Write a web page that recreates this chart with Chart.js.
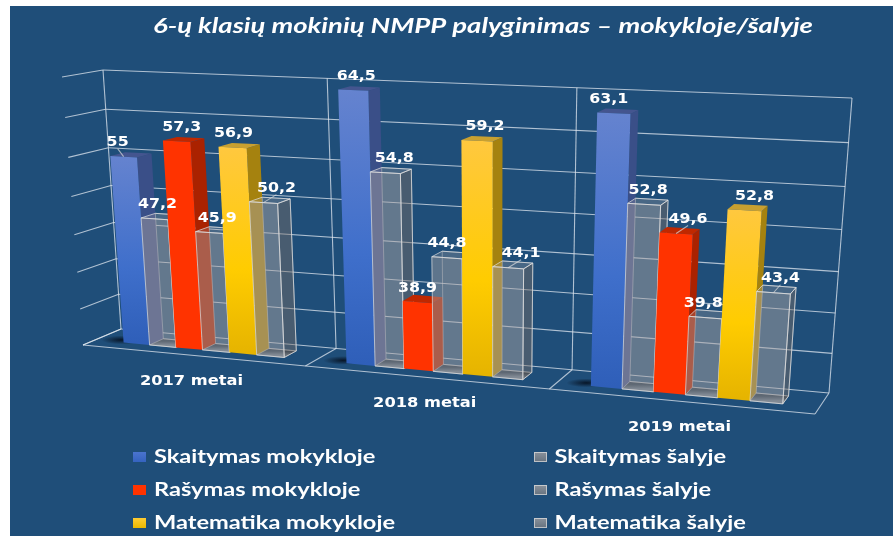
<!DOCTYPE html>
<html><head><meta charset="utf-8">
<style>html,body{margin:0;padding:0;background:#fff}canvas{display:block}</style>
<script src="https://cdn.jsdelivr.net/npm/chart.js@4"></script>
</head><body><canvas id="c" width="893" height="536"></canvas>
<script>
const chartTitle = '6-ų klasių mokinių NMPP palyginimas – mokykloje/šalyje';
const years = ['2017 metai','2018 metai','2019 metai'];
const skaitymasMokykloje = [55, 64.5, 63.1];
const skaitymasSalyje = [47.2, 54.8, 52.8];
const rasymasMokykloje = [57.3, 38.9, 49.6];
const rasymasSalyje = [45.9, 44.8, 39.8];
const matematikaMokykloje = [56.9, 59.2, 52.8];
const matematikaSalyje = [50.2, 44.1, 43.4];
const seriesNames = ['Skaitymas mokykloje','Skaitymas šalyje','Rašymas mokykloje','Rašymas šalyje','Matematika mokykloje','Matematika šalyje'];

// layout-only: horizontal nudge of value labels, and which labels carry a leader line
const labelNudge = [[-6,3,5,8,1,13],[3,9,0,0,8,13],[-5,4,12,-2,10,7]];
const leaders = [[0,0],[0,5],[1,5],[2,2],[2,5]];

const NAVY='#1F4E79';
const solid=[
 {front:['#6583CF','#3F6FCB','#2F5FB9'],side:'#3A4F88',top:'#44558F'},
 null,
 {front:['#FF3300','#FF3300','#FF3300'],side:'#AA2200',top:'#C02800'},
 null,
 {front:['#FFC83F','#FFCC00','#E6B400'],side:'#A5820F',top:'#C8A030'},
 null];
const COR={BBL:[121,329],BBR:[829,393],BTL:[103,70],BTR:[852,98],FBL:[83,345],FBR:[815,414],FTL:[62,77],FTR:[839,109]};
function P(u,v,d){
  const b=v-0.07*v*(1-v), a=u-(0.133+0.02*v)*u*(1-u);
  const mix=(p,q,t)=>[p[0]+(q[0]-p[0])*t,p[1]+(q[1]-p[1])*t];
  const bb=mix(COR.BBL,COR.BBR,a), bt=mix(COR.BTL,COR.BTR,a), fb=mix(COR.FBL,COR.FBR,a), ft=mix(COR.FTL,COR.FTR,a);
  return mix(mix(bb,bt,b),mix(fb,ft,b),d);
}
function poly(ctx,pts,fill,stroke){
  ctx.beginPath();pts.forEach((p,i)=>i?ctx.lineTo(p[0],p[1]):ctx.moveTo(p[0],p[1]));ctx.closePath();
  if(fill){ctx.fillStyle=fill;ctx.fill();}
  if(stroke){ctx.strokeStyle=stroke;ctx.lineWidth=1;ctx.stroke();}
}
function line(ctx,a,b,c){ctx.strokeStyle=c;ctx.lineWidth=1.1;ctx.beginPath();ctx.moveTo(a[0],a[1]);ctx.lineTo(b[0],b[1]);ctx.stroke();}
function txt(ctx,s,cx,cy,font,sx,align){
  ctx.save();ctx.font=font;ctx.fillStyle='#fff';ctx.textBaseline='middle';ctx.textAlign=align||'center';
  ctx.translate(cx,cy);ctx.scale(sx,1);ctx.fillText(s,0,0);ctx.restore();
}
const D0=0.30,D1=0.68;
const scene={
  id:'scene',
  beforeDraw(chart){
    const c=chart.ctx;c.save();
    c.fillStyle='#fff';c.fillRect(0,0,chart.width,chart.height);
    c.fillStyle=NAVY;c.fillRect(10,6,chart.width-10,chart.height-6);
    c.restore();
  },
  beforeDatasetDraw(){return false;},
  afterDraw(chart){
    const c=chart.ctx,ca=chart.chartArea,xs=chart.scales.x,ys=chart.scales.y;
    const U=px=>(px-ca.left)/(ca.right-ca.left), V=py=>(ca.bottom-py)/(ca.bottom-ca.top);
    c.save();
    // title
    const tf='italic bold 21px Lato';
    c.font=tf;const tsx=660/c.measureText(chartTitle).width;
    txt(c,chartTitle,483,26,tf,tsx);
    // grid
    const G='rgba(225,232,240,0.75)';
    ys.ticks.forEach(t=>{
      const v=V(ys.getPixelForValue(t.value));
      line(c,P(0,v,0),P(1,v,0),G);
      line(c,P(0,v,1),P(0,v,0),G);
    });
    const cw=(ca.right-ca.left)/years.length;
    const edges=[0,1,2,3].map(i=>U(i<3?xs.getPixelForValue(i)-cw/2:xs.getPixelForValue(2)+cw/2));
    edges.forEach(u=>{line(c,P(u,0,0),P(u,1,0),G);line(c,P(u,0,0),P(u,0,1),G);});
    line(c,P(0,0,1),P(1,0,1),G);
    // bars
    years.forEach((y,j)=>{
      const first=chart.getDatasetMeta(0).data[j].getProps(['x','width'],true);
      const su=U(first.x-first.width/2);
      const sp=P(su,0,0.52);
      c.save();c.translate(sp[0]-8,sp[1]);c.scale(1,0.22);
      const rg=c.createRadialGradient(0,0,1,0,0,20);
      rg.addColorStop(0,'rgba(5,15,30,0.85)');rg.addColorStop(1,'rgba(5,15,30,0)');
      c.fillStyle=rg;c.beginPath();c.arc(0,0,20,0,Math.PI*2);c.fill();c.restore();
      chart.data.datasets.forEach((ds,i)=>{
        const el=chart.getDatasetMeta(i).data[j].getProps(['x','y','base','width'],true);
        const u0=U(el.x-el.width/2),u1=U(el.x+el.width/2),v=V(el.y),b=V(el.base);
        const fr=[P(u0,b,D1),P(u1,b,D1),P(u1,v,D1),P(u0,v,D1)];
        const rt=[P(u1,b,D1),P(u1,b,D0),P(u1,v,D0),P(u1,v,D1)];
        const tp=[P(u0,v,D1),P(u1,v,D1),P(u1,v,D0),P(u0,v,D0)];
        const st=solid[i];
        if(st){
          poly(c,rt,st.side);poly(c,tp,st.top);
          const g=c.createLinearGradient(0,fr[3][1],0,fr[0][1]);
          g.addColorStop(0,st.front[0]);g.addColorStop(0.6,st.front[1]);g.addColorStop(1,st.front[2]);
          poly(c,fr,g);
        }else{
          const E='rgba(225,225,225,0.7)',E2='rgba(225,225,225,0.45)';
          const fl=[P(u0,b,D1),P(u1,b,D1),P(u1,b,D0),P(u0,b,D0)];
          const g=c.createLinearGradient(0,fl[2][1],0,fl[0][1]);
          g.addColorStop(0,'rgba(30,30,30,0.5)');g.addColorStop(1,'rgba(150,150,150,0.55)');
          poly(c,fl,g,E2);
          poly(c,[P(u0,b,D0),P(u1,b,D0),P(u1,v,D0),P(u0,v,D0)],'rgba(170,165,165,0.06)',E2);
          poly(c,rt,'rgba(123,108,98,0.40)',E);
          poly(c,tp,'rgba(170,165,165,0.25)',E);
          poly(c,fr,'rgba(169,164,163,0.46)',E);
        }
      });
    });
    // value labels
    const vf='bold 14px "DejaVu Sans"';
    const labelAt=(j,i)=>{
      const el=chart.getDatasetMeta(i).data[j].getProps(['x','y'],true);
      const p=P(U(el.x),V(el.y),D1);
      return {p,x:p[0]+labelNudge[j][i],y:p[1]-14};
    };
    leaders.forEach(([j,i])=>{
      const l=labelAt(j,i);
      line(c,[l.p[0],l.p[1]],[l.x,l.y+6],'rgba(220,220,220,0.7)');
    });
    years.forEach((y,j)=>{
      chart.data.datasets.forEach((ds,i)=>{
        const l=labelAt(j,i);
        txt(c,String(ds.data[j]).replace('.',','),l.x,l.y,vf,1.13);
      });
    });
    // category labels
    years.forEach((y,j)=>{
      const p=P(U(xs.getPixelForValue(j)),0,1);
      txt(c,y,p[0],p[1]+26,'bold 14px "DejaVu Sans"',1.16);
    });
    // legend
    const lf='bold 19px Lato';
    c.font=lf;const lsx=241/c.measureText(seriesNames[4]).width;
    const swatch=[['#4A74CE','#3563BF'],['#8A929C','#66727F'],['#FF3300','#FF3300'],['#8A929C','#66727F'],['#FFCC33','#EBB800'],['#8A929C','#66727F']];
    seriesNames.forEach((n,i)=>{
      const col=i%2,row=(i-col)/2;
      const bx=col?534:133,tx=col?554.5:154,yy=[457,490,523][row];
      const g=c.createLinearGradient(0,yy-5,0,yy+5);g.addColorStop(0,swatch[i][0]);g.addColorStop(1,swatch[i][1]);
      c.fillStyle=g;c.fillRect(bx,yy-5,13,10);
      if(col){c.strokeStyle='rgba(225,225,225,.7)';c.lineWidth=1;c.strokeRect(bx+.5,yy-4.5,12,9);}
      txt(c,n,tx,yy,lf,lsx,'left');
    });
    c.restore();
  }
};
new Chart(document.getElementById('c'),{
  type:'bar',
  data:{labels:years,datasets:[
    {label:seriesNames[0],data:skaitymasMokykloje,base:30},
    {label:seriesNames[1],data:skaitymasSalyje,base:30},
    {label:seriesNames[2],data:rasymasMokykloje,base:30},
    {label:seriesNames[3],data:rasymasSalyje,base:30},
    {label:seriesNames[4],data:matematikaMokykloje,base:30},
    {label:seriesNames[5],data:matematikaSalyje,base:30}
  ]},
  options:{
    responsive:false,animation:false,
    layout:{padding:{left:60,right:60,top:60,bottom:100}},
    categoryPercentage:0.73,barPercentage:1,
    plugins:{legend:{display:false},title:{display:false},tooltip:{enabled:false}},
    scales:{
      x:{display:false,grid:{display:false}},
      y:{display:false,min:30,max:65,ticks:{stepSize:5}}
    }
  },
  plugins:[scene]
});
</script></body></html>
